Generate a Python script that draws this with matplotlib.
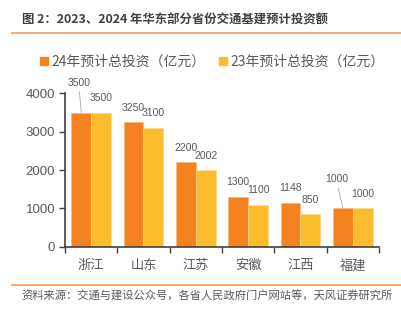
import matplotlib
matplotlib.use('Agg')
import matplotlib.pyplot as plt
import numpy as np
from matplotlib.patches import Patch
from matplotlib.lines import Line2D

plt.rcParams['font.family'] = ['Noto Sans CJK SC', 'DejaVu Sans']

provinces = ['浙江', '山东', '江苏', '安徽', '江西', '福建']
invest_24 = [3500, 3250, 2200, 1300, 1148, 1000]
invest_23 = [3500, 3100, 2002, 1100, 850, 1000]
label_24 = '24年预计总投资（亿元）'
label_23 = '23年预计总投资（亿元）'
title = '图 2：2023、2024 年华东部分省份交通基建预计投资额'
source = '资料来源：交通与建设公众号，各省人民政府门户网站等，天风证券研究所'

c24 = '#F5821F'
c23 = '#FBBC2D'
grey = '#595959'
line_c = '#F4A466'

fig = plt.figure(figsize=(4.01, 3.21), dpi=100)
ax = fig.add_axes([0.162, 0.2315, 0.783, 0.4775])

x = np.arange(len(provinces))
w = 0.38
b24 = ax.bar(x - w / 2, invest_24, w, color=c24, edgecolor='#F9B77F', linewidth=0.5)
b23 = ax.bar(x + w / 2, invest_23, w, color=c23, edgecolor='#FDD98A', linewidth=0.5)

# value labels; two of the orange ones are lifted with a leader line
lifted = {0: (-1.8, 21.6), 5: (-4.7, 20.9)}
for i, v in enumerate(invest_24):
    if i in lifted:
        ax.annotate(str(v), (x[i] - w / 2, v), xytext=lifted[i], textcoords='offset points',
                    ha='center', va='center', fontsize=7.5, color=grey, family='Liberation Sans',
                    annotation_clip=False,
                    arrowprops=dict(arrowstyle='-', color='#A6A6A6', lw=0.6, shrinkA=1, shrinkB=0))
    else:
        ax.annotate(str(v), (x[i] - w / 2, v), xytext=(0, 10.4), textcoords='offset points',
                    ha='center', va='center', fontsize=7.5, color=grey, family='Liberation Sans',
                    annotation_clip=False)
for i, v in enumerate(invest_23):
    ax.annotate(str(v), (x[i] + w / 2, v), xytext=(0, 10.4), textcoords='offset points',
                ha='center', va='center', fontsize=7.5, color=grey, family='Liberation Sans',
                annotation_clip=False)

ax.set_xlim(-0.5, len(provinces) - 0.5)
ax.set_ylim(0, 4000)
ax.set_yticks([0, 1000, 2000, 3000, 4000])
ax.set_xticks(x)
ax.set_xticklabels(provinces, fontsize=9.5, color=grey)
ax.set_xticks(np.arange(-0.5, len(provinces)), minor=True)
ax.tick_params(axis='x', which='major', length=0, pad=9)
ax.tick_params(axis='x', which='minor', length=4, width=1, color='#404040', direction='out')
ax.tick_params(axis='y', length=4, width=1, color='#404040', direction='out', pad=3,
               labelsize=9.5, labelcolor=grey)
for lab in ax.get_yticklabels():
    lab.set_family('Liberation Sans')
for s in ['top', 'right']:
    ax.spines[s].set_visible(False)
for s in ['left', 'bottom']:
    ax.spines[s].set_color('#404040')
    ax.spines[s].set_linewidth(1.2)

handles = [Patch(color=c24), Patch(color=c23)]
fig.legend(handles, [label_24, label_23], loc='center', bbox_to_anchor=(0.53, 0.807), ncol=2,
           frameon=False, fontsize=10, labelcolor=grey, handlelength=0.55, handleheight=0.55,
           handletextpad=0.25, columnspacing=1.0, borderaxespad=0)

fig.text(22 / 401, 1 - 20 / 321, title, fontsize=8.9, fontweight='bold', color='#404040',
         ha='left', va='center')
fig.add_artist(Line2D([12 / 401, 1], [1 - 32.5 / 321] * 2, color=line_c, lw=1.3))
fig.add_artist(Line2D([12 / 401, 1], [1 - 285 / 321] * 2, color=line_c, lw=1.3))
fig.text(21 / 401, 1 - 296.5 / 321, source, fontsize=8.1, color=grey, ha='left', va='center')

fig.savefig('out.png', dpi=100)
